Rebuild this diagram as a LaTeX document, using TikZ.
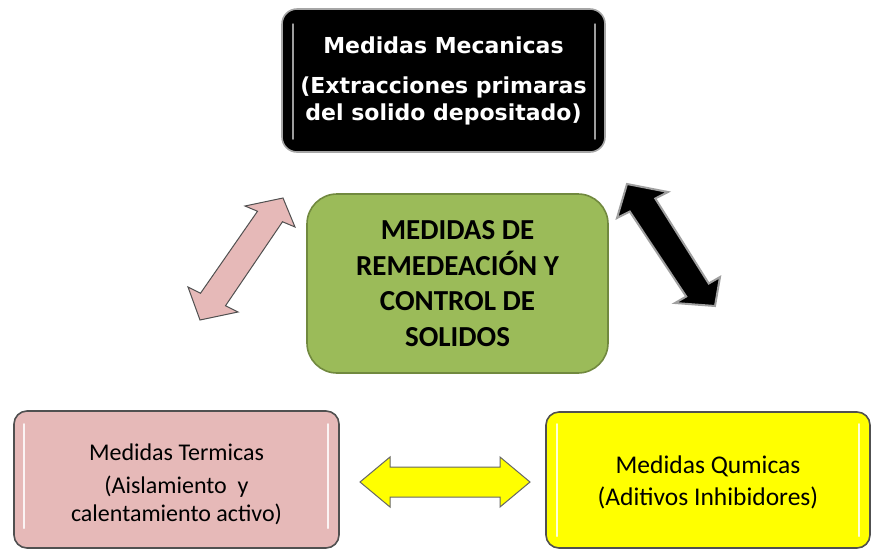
\documentclass[tikz,border=0pt]{standalone}
\usepackage{fontspec}
\newfontfamily\dejavu{DejaVu Sans}
\newfontfamily\carlito{Carlito}
\definecolor{pinkfill}{HTML}{E6B9B8}
\definecolor{greenfill}{HTML}{9BBB59}
\definecolor{greenedge}{HTML}{71893F}
\definecolor{yellowfill}{HTML}{FFFF00}
\definecolor{boxedge}{HTML}{505050}
\tikzset{
  boxbase/.style={draw=boxedge, line width=1.6pt, align=center, inner sep=0pt},
  topbox/.style={boxbase, fill=black, draw=gray!70, text=white, rounded corners=15pt,
    minimum width=323pt, minimum height=143pt,
    font=\dejavu\bfseries\fontsize{22}{27}\selectfont},
  centerbox/.style={boxbase, fill=greenfill, draw=greenedge, rounded corners=30pt,
    minimum width=301pt, minimum height=179pt,
    font=\carlito\bfseries\fontsize{29}{35.5}\selectfont},
  pinkbox/.style={boxbase, fill=pinkfill, rounded corners=13pt,
    minimum width=325pt, minimum height=137pt,
    font=\carlito\fontsize{24}{28}\selectfont},
  yellowbox/.style={boxbase, fill=yellowfill, rounded corners=13pt,
    minimum width=324pt, minimum height=136pt,
    font=\carlito\fontsize{25.5}{32}\selectfont},
  gloss/.style={white, opacity=0.85, line width=2pt, line cap=round},
  pinkarrow/.style={fill=pinkfill, draw=boxedge, line width=1pt, line join=miter},
  blackarrow/.style={fill=black, draw=gray!75, line width=2pt, line join=miter},
  yellowarrow/.style={fill=yellowfill, draw=gray!80!black, line width=1pt, line join=miter}
}
\begin{document}
\begin{tikzpicture}[x=1pt,y=-1pt]
\useasboundingbox (0,0) rectangle (875,550);
% boxes
\node[topbox] (mec) at (443.5,80.5) {Medidas Mecanicas\\[13pt](Extracciones primaras\\del solido depositado)};
\node[centerbox] (main) at (457.5,283.5) {MEDIDAS DE\\REMEDEACIÓN Y\\CONTROL DE\\SOLIDOS};
\node[pinkbox] (term) at (176.5,479.5) {\rule{0pt}{26pt}Medidas Termicas\\[5pt](Aislamiento\ \ y\\calentamiento activo)};
\node[yellowbox] (quim) at (708,480) {\rule{0pt}{22pt}Medidas Qumicas\\(Aditivos Inhibidores)};
% gloss highlights
\draw[gloss, gray!55, line width=1.5pt] (293,24) -- (293,139);
\draw[gloss, gray!55, line width=1.5pt] (595,24) -- (595,139);
\draw[gloss] (24,424) -- (24,528);
\draw[gloss] (328,424) -- (328,528);
\draw[gloss] (557,424) -- (557,536);
\draw[gloss] (859,424) -- (859,536);
% block arrows
\draw[pinkarrow] (200,320) -- (238,312) -- (225.5,305.75) -- (282.5,221.75) -- (295,227)
  -- (283,198) -- (245,206) -- (257.5,211.25) -- (200.5,293.25) -- (188,287) -- cycle;
\draw[blackarrow] (627,184) -- (668,192) -- (655.25,198.5) -- (708.75,283.5) -- (720,277)
  -- (715,306) -- (675,303) -- (686.25,296.5) -- (629.75,211.5) -- (617,218) -- cycle;
\draw[yellowarrow] (360,482) -- (390,457) -- (390,467) -- (500,467) -- (500,457)
  -- (530,482) -- (500,507) -- (500,497) -- (390,497) -- (390,507) -- cycle;
\end{tikzpicture}
\end{document}
